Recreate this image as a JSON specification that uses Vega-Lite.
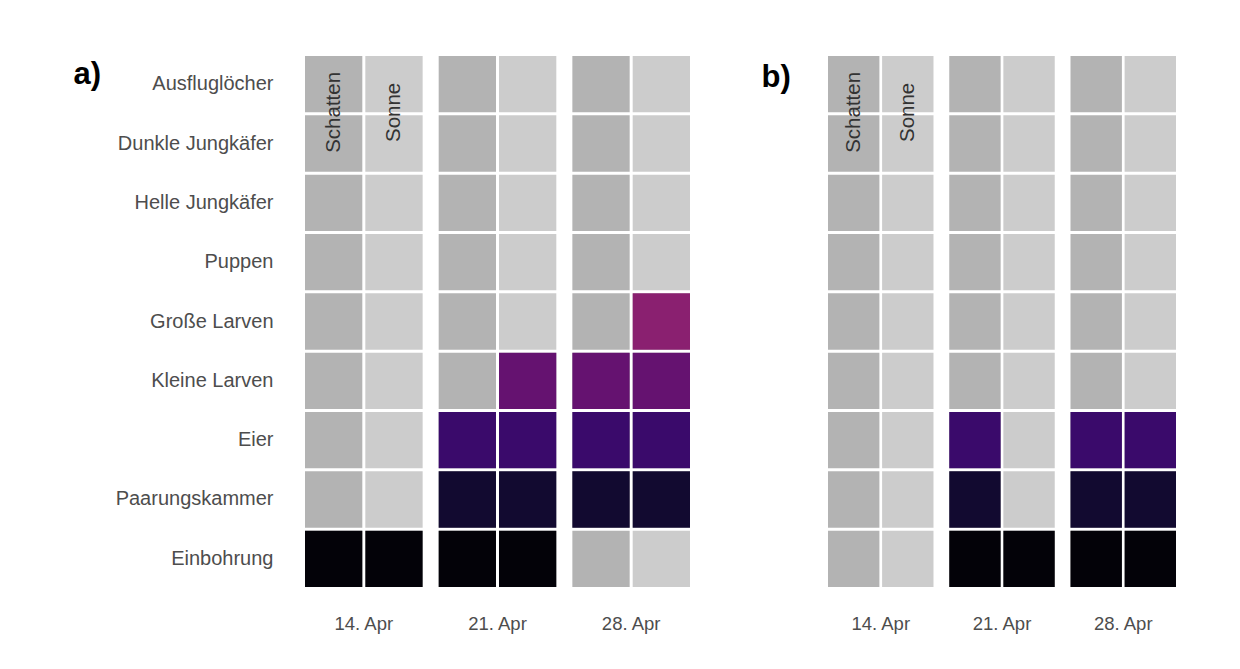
{
  "$schema": "https://vega.github.io/schema/vega-lite/v6.json",
  "background": "white",
  "padding": {"left": 73, "top": 56, "right": 10, "bottom": 10},
  "config": {"view": {"stroke": null}, "font": "Liberation Sans", "concat": {"spacing": 71}},
  "resolve": {"scale": {"xOffset": "independent", "x": "independent", "y": "independent"}},
  "datasets": {
    "cells": [
      {"panel":"a","date":"14. Apr","cond":"Schatten","stage":"Ausfluglöcher","present":0},
      {"panel":"a","date":"14. Apr","cond":"Sonne","stage":"Ausfluglöcher","present":0},
      {"panel":"a","date":"14. Apr","cond":"Schatten","stage":"Dunkle Jungkäfer","present":0},
      {"panel":"a","date":"14. Apr","cond":"Sonne","stage":"Dunkle Jungkäfer","present":0},
      {"panel":"a","date":"14. Apr","cond":"Schatten","stage":"Helle Jungkäfer","present":0},
      {"panel":"a","date":"14. Apr","cond":"Sonne","stage":"Helle Jungkäfer","present":0},
      {"panel":"a","date":"14. Apr","cond":"Schatten","stage":"Puppen","present":0},
      {"panel":"a","date":"14. Apr","cond":"Sonne","stage":"Puppen","present":0},
      {"panel":"a","date":"14. Apr","cond":"Schatten","stage":"Große Larven","present":0},
      {"panel":"a","date":"14. Apr","cond":"Sonne","stage":"Große Larven","present":0},
      {"panel":"a","date":"14. Apr","cond":"Schatten","stage":"Kleine Larven","present":0},
      {"panel":"a","date":"14. Apr","cond":"Sonne","stage":"Kleine Larven","present":0},
      {"panel":"a","date":"14. Apr","cond":"Schatten","stage":"Eier","present":0},
      {"panel":"a","date":"14. Apr","cond":"Sonne","stage":"Eier","present":0},
      {"panel":"a","date":"14. Apr","cond":"Schatten","stage":"Paarungskammer","present":0},
      {"panel":"a","date":"14. Apr","cond":"Sonne","stage":"Paarungskammer","present":0},
      {"panel":"a","date":"14. Apr","cond":"Schatten","stage":"Einbohrung","present":1},
      {"panel":"a","date":"14. Apr","cond":"Sonne","stage":"Einbohrung","present":1},
      {"panel":"a","date":"21. Apr","cond":"Schatten","stage":"Ausfluglöcher","present":0},
      {"panel":"a","date":"21. Apr","cond":"Sonne","stage":"Ausfluglöcher","present":0},
      {"panel":"a","date":"21. Apr","cond":"Schatten","stage":"Dunkle Jungkäfer","present":0},
      {"panel":"a","date":"21. Apr","cond":"Sonne","stage":"Dunkle Jungkäfer","present":0},
      {"panel":"a","date":"21. Apr","cond":"Schatten","stage":"Helle Jungkäfer","present":0},
      {"panel":"a","date":"21. Apr","cond":"Sonne","stage":"Helle Jungkäfer","present":0},
      {"panel":"a","date":"21. Apr","cond":"Schatten","stage":"Puppen","present":0},
      {"panel":"a","date":"21. Apr","cond":"Sonne","stage":"Puppen","present":0},
      {"panel":"a","date":"21. Apr","cond":"Schatten","stage":"Große Larven","present":0},
      {"panel":"a","date":"21. Apr","cond":"Sonne","stage":"Große Larven","present":0},
      {"panel":"a","date":"21. Apr","cond":"Schatten","stage":"Kleine Larven","present":0},
      {"panel":"a","date":"21. Apr","cond":"Sonne","stage":"Kleine Larven","present":1},
      {"panel":"a","date":"21. Apr","cond":"Schatten","stage":"Eier","present":1},
      {"panel":"a","date":"21. Apr","cond":"Sonne","stage":"Eier","present":1},
      {"panel":"a","date":"21. Apr","cond":"Schatten","stage":"Paarungskammer","present":1},
      {"panel":"a","date":"21. Apr","cond":"Sonne","stage":"Paarungskammer","present":1},
      {"panel":"a","date":"21. Apr","cond":"Schatten","stage":"Einbohrung","present":1},
      {"panel":"a","date":"21. Apr","cond":"Sonne","stage":"Einbohrung","present":1},
      {"panel":"a","date":"28. Apr","cond":"Schatten","stage":"Ausfluglöcher","present":0},
      {"panel":"a","date":"28. Apr","cond":"Sonne","stage":"Ausfluglöcher","present":0},
      {"panel":"a","date":"28. Apr","cond":"Schatten","stage":"Dunkle Jungkäfer","present":0},
      {"panel":"a","date":"28. Apr","cond":"Sonne","stage":"Dunkle Jungkäfer","present":0},
      {"panel":"a","date":"28. Apr","cond":"Schatten","stage":"Helle Jungkäfer","present":0},
      {"panel":"a","date":"28. Apr","cond":"Sonne","stage":"Helle Jungkäfer","present":0},
      {"panel":"a","date":"28. Apr","cond":"Schatten","stage":"Puppen","present":0},
      {"panel":"a","date":"28. Apr","cond":"Sonne","stage":"Puppen","present":0},
      {"panel":"a","date":"28. Apr","cond":"Schatten","stage":"Große Larven","present":0},
      {"panel":"a","date":"28. Apr","cond":"Sonne","stage":"Große Larven","present":1},
      {"panel":"a","date":"28. Apr","cond":"Schatten","stage":"Kleine Larven","present":1},
      {"panel":"a","date":"28. Apr","cond":"Sonne","stage":"Kleine Larven","present":1},
      {"panel":"a","date":"28. Apr","cond":"Schatten","stage":"Eier","present":1},
      {"panel":"a","date":"28. Apr","cond":"Sonne","stage":"Eier","present":1},
      {"panel":"a","date":"28. Apr","cond":"Schatten","stage":"Paarungskammer","present":1},
      {"panel":"a","date":"28. Apr","cond":"Sonne","stage":"Paarungskammer","present":1},
      {"panel":"a","date":"28. Apr","cond":"Schatten","stage":"Einbohrung","present":0},
      {"panel":"a","date":"28. Apr","cond":"Sonne","stage":"Einbohrung","present":0},
      {"panel":"b","date":"14. Apr","cond":"Schatten","stage":"Ausfluglöcher","present":0},
      {"panel":"b","date":"14. Apr","cond":"Sonne","stage":"Ausfluglöcher","present":0},
      {"panel":"b","date":"14. Apr","cond":"Schatten","stage":"Dunkle Jungkäfer","present":0},
      {"panel":"b","date":"14. Apr","cond":"Sonne","stage":"Dunkle Jungkäfer","present":0},
      {"panel":"b","date":"14. Apr","cond":"Schatten","stage":"Helle Jungkäfer","present":0},
      {"panel":"b","date":"14. Apr","cond":"Sonne","stage":"Helle Jungkäfer","present":0},
      {"panel":"b","date":"14. Apr","cond":"Schatten","stage":"Puppen","present":0},
      {"panel":"b","date":"14. Apr","cond":"Sonne","stage":"Puppen","present":0},
      {"panel":"b","date":"14. Apr","cond":"Schatten","stage":"Große Larven","present":0},
      {"panel":"b","date":"14. Apr","cond":"Sonne","stage":"Große Larven","present":0},
      {"panel":"b","date":"14. Apr","cond":"Schatten","stage":"Kleine Larven","present":0},
      {"panel":"b","date":"14. Apr","cond":"Sonne","stage":"Kleine Larven","present":0},
      {"panel":"b","date":"14. Apr","cond":"Schatten","stage":"Eier","present":0},
      {"panel":"b","date":"14. Apr","cond":"Sonne","stage":"Eier","present":0},
      {"panel":"b","date":"14. Apr","cond":"Schatten","stage":"Paarungskammer","present":0},
      {"panel":"b","date":"14. Apr","cond":"Sonne","stage":"Paarungskammer","present":0},
      {"panel":"b","date":"14. Apr","cond":"Schatten","stage":"Einbohrung","present":0},
      {"panel":"b","date":"14. Apr","cond":"Sonne","stage":"Einbohrung","present":0},
      {"panel":"b","date":"21. Apr","cond":"Schatten","stage":"Ausfluglöcher","present":0},
      {"panel":"b","date":"21. Apr","cond":"Sonne","stage":"Ausfluglöcher","present":0},
      {"panel":"b","date":"21. Apr","cond":"Schatten","stage":"Dunkle Jungkäfer","present":0},
      {"panel":"b","date":"21. Apr","cond":"Sonne","stage":"Dunkle Jungkäfer","present":0},
      {"panel":"b","date":"21. Apr","cond":"Schatten","stage":"Helle Jungkäfer","present":0},
      {"panel":"b","date":"21. Apr","cond":"Sonne","stage":"Helle Jungkäfer","present":0},
      {"panel":"b","date":"21. Apr","cond":"Schatten","stage":"Puppen","present":0},
      {"panel":"b","date":"21. Apr","cond":"Sonne","stage":"Puppen","present":0},
      {"panel":"b","date":"21. Apr","cond":"Schatten","stage":"Große Larven","present":0},
      {"panel":"b","date":"21. Apr","cond":"Sonne","stage":"Große Larven","present":0},
      {"panel":"b","date":"21. Apr","cond":"Schatten","stage":"Kleine Larven","present":0},
      {"panel":"b","date":"21. Apr","cond":"Sonne","stage":"Kleine Larven","present":0},
      {"panel":"b","date":"21. Apr","cond":"Schatten","stage":"Eier","present":1},
      {"panel":"b","date":"21. Apr","cond":"Sonne","stage":"Eier","present":0},
      {"panel":"b","date":"21. Apr","cond":"Schatten","stage":"Paarungskammer","present":1},
      {"panel":"b","date":"21. Apr","cond":"Sonne","stage":"Paarungskammer","present":0},
      {"panel":"b","date":"21. Apr","cond":"Schatten","stage":"Einbohrung","present":1},
      {"panel":"b","date":"21. Apr","cond":"Sonne","stage":"Einbohrung","present":1},
      {"panel":"b","date":"28. Apr","cond":"Schatten","stage":"Ausfluglöcher","present":0},
      {"panel":"b","date":"28. Apr","cond":"Sonne","stage":"Ausfluglöcher","present":0},
      {"panel":"b","date":"28. Apr","cond":"Schatten","stage":"Dunkle Jungkäfer","present":0},
      {"panel":"b","date":"28. Apr","cond":"Sonne","stage":"Dunkle Jungkäfer","present":0},
      {"panel":"b","date":"28. Apr","cond":"Schatten","stage":"Helle Jungkäfer","present":0},
      {"panel":"b","date":"28. Apr","cond":"Sonne","stage":"Helle Jungkäfer","present":0},
      {"panel":"b","date":"28. Apr","cond":"Schatten","stage":"Puppen","present":0},
      {"panel":"b","date":"28. Apr","cond":"Sonne","stage":"Puppen","present":0},
      {"panel":"b","date":"28. Apr","cond":"Schatten","stage":"Große Larven","present":0},
      {"panel":"b","date":"28. Apr","cond":"Sonne","stage":"Große Larven","present":0},
      {"panel":"b","date":"28. Apr","cond":"Schatten","stage":"Kleine Larven","present":0},
      {"panel":"b","date":"28. Apr","cond":"Sonne","stage":"Kleine Larven","present":0},
      {"panel":"b","date":"28. Apr","cond":"Schatten","stage":"Eier","present":1},
      {"panel":"b","date":"28. Apr","cond":"Sonne","stage":"Eier","present":1},
      {"panel":"b","date":"28. Apr","cond":"Schatten","stage":"Paarungskammer","present":1},
      {"panel":"b","date":"28. Apr","cond":"Sonne","stage":"Paarungskammer","present":1},
      {"panel":"b","date":"28. Apr","cond":"Schatten","stage":"Einbohrung","present":1},
      {"panel":"b","date":"28. Apr","cond":"Sonne","stage":"Einbohrung","present":1}
    ],
    "labels": [
      {"date":"14. Apr","cond":"Schatten","stage":"Ausfluglöcher","label":"Schatten"},
      {"date":"14. Apr","cond":"Sonne","stage":"Ausfluglöcher","label":"Sonne"}
    ]
  },
  "hconcat": [
    {
      "width": 385,
      "height": 531,
      "resolve": {"scale": {"color": "independent"}},
      "layer": [
        {
          "data": {"name": "cells"},
          "transform": [{"filter": "datum.panel == 'a'"}],
          "mark": {"type": "rect"},
          "encoding": {
            "x": {"field": "date", "type": "ordinal", "sort": ["14. Apr","21. Apr","28. Apr"],
                  "scale": {"paddingInner": 0.12, "paddingOuter": 0},
                  "axis": {"title": null, "labelAngle": 0, "ticks": false, "domain": false, "labelFontSize": 18.5, "labelColor": "#4d4d4d", "labelPadding": 27}},
            "xOffset": {"field": "cond", "type": "nominal", "sort": ["Schatten","Sonne"], "scale": {"paddingInner": 0.05, "paddingOuter": 0}},
            "y": {"field": "stage", "type": "ordinal",
                  "sort": ["Ausfluglöcher","Dunkle Jungkäfer","Helle Jungkäfer","Puppen","Große Larven","Kleine Larven","Eier","Paarungskammer","Einbohrung"],
                  "scale": {"paddingInner": 0.05, "paddingOuter": 0},
                  "axis": {"title": "a)", "titleAngle": 0, "titleAlign": "left", "titleBaseline": "alphabetic", "titleX": -232, "titleY": 27, "titleFontSize": 31, "titleFontWeight": "bold", "titleColor": "#000000",
                           "ticks": false, "domain": false, "labelFontSize": 20, "labelColor": "#4d4d4d", "labelPadding": 32}},
            "color": {"field": "cond", "type": "nominal", "scale": {"domain": ["Schatten","Sonne"], "range": ["#b3b3b3","#cccccc"]}, "legend": null}
          }
        },
        {
          "data": {"name": "cells"},
          "transform": [{"filter": "datum.panel == 'a' && datum.present == 1"}],
          "mark": {"type": "rect"},
          "encoding": {
            "x": {"field": "date", "type": "ordinal", "sort": ["14. Apr","21. Apr","28. Apr"]},
            "xOffset": {"field": "cond", "type": "nominal", "sort": ["Schatten","Sonne"]},
            "y": {"field": "stage", "type": "ordinal", "sort": ["Ausfluglöcher","Dunkle Jungkäfer","Helle Jungkäfer","Puppen","Große Larven","Kleine Larven","Eier","Paarungskammer","Einbohrung"]},
            "color": {"field": "stage", "type": "nominal",
                      "scale": {"domain": ["Einbohrung","Paarungskammer","Eier","Kleine Larven","Große Larven","Puppen","Helle Jungkäfer","Dunkle Jungkäfer","Ausfluglöcher"],
                                "range": ["#030208","#120a30","#3a0a6b","#651270","#8a2070","#b73779","#de4968","#f7705c","#fe9f6d"]},
                      "legend": null}
          }
        },
        {
          "data": {"name": "labels"},
          "mark": {"type": "text", "angle": 270, "align": "center", "baseline": "middle", "fontSize": 20.5, "color": "#333333"},
          "encoding": {
            "x": {"field": "date", "type": "ordinal", "sort": ["14. Apr","21. Apr","28. Apr"]},
            "xOffset": {"field": "cond", "type": "nominal", "sort": ["Schatten","Sonne"]},
            "y": {"field": "stage", "type": "ordinal", "bandPosition": 1, "sort": ["Ausfluglöcher","Dunkle Jungkäfer","Helle Jungkäfer","Puppen","Große Larven","Kleine Larven","Eier","Paarungskammer","Einbohrung"]},
            "text": {"field": "label"}
          }
        }
      ]
    },
    {
      "width": 348,
      "height": 531,
      "resolve": {"scale": {"color": "independent"}},
      "layer": [
        {
          "data": {"name": "cells"},
          "transform": [{"filter": "datum.panel == 'b'"}],
          "mark": {"type": "rect"},
          "encoding": {
            "x": {"field": "date", "type": "ordinal", "sort": ["14. Apr","21. Apr","28. Apr"],
                  "scale": {"paddingInner": 0.13, "paddingOuter": 0},
                  "axis": {"title": null, "labelAngle": 0, "ticks": false, "domain": false, "labelFontSize": 18.5, "labelColor": "#4d4d4d", "labelPadding": 27}},
            "xOffset": {"field": "cond", "type": "nominal", "sort": ["Schatten","Sonne"], "scale": {"paddingInner": 0.05, "paddingOuter": 0}},
            "y": {"field": "stage", "type": "ordinal",
                  "sort": ["Ausfluglöcher","Dunkle Jungkäfer","Helle Jungkäfer","Puppen","Große Larven","Kleine Larven","Eier","Paarungskammer","Einbohrung"],
                  "scale": {"paddingInner": 0.05, "paddingOuter": 0},
                  "axis": {"title": "b)", "titleAngle": 0, "titleAlign": "left", "titleBaseline": "alphabetic", "titleX": -67, "titleY": 30, "titleFontSize": 31, "titleFontWeight": "bold", "titleColor": "#000000",
                           "labels": false, "ticks": false, "domain": false}},
            "color": {"field": "cond", "type": "nominal", "scale": {"domain": ["Schatten","Sonne"], "range": ["#b3b3b3","#cccccc"]}, "legend": null}
          }
        },
        {
          "data": {"name": "cells"},
          "transform": [{"filter": "datum.panel == 'b' && datum.present == 1"}],
          "mark": {"type": "rect"},
          "encoding": {
            "x": {"field": "date", "type": "ordinal", "sort": ["14. Apr","21. Apr","28. Apr"]},
            "xOffset": {"field": "cond", "type": "nominal", "sort": ["Schatten","Sonne"]},
            "y": {"field": "stage", "type": "ordinal", "sort": ["Ausfluglöcher","Dunkle Jungkäfer","Helle Jungkäfer","Puppen","Große Larven","Kleine Larven","Eier","Paarungskammer","Einbohrung"]},
            "color": {"field": "stage", "type": "nominal",
                      "scale": {"domain": ["Einbohrung","Paarungskammer","Eier","Kleine Larven","Große Larven","Puppen","Helle Jungkäfer","Dunkle Jungkäfer","Ausfluglöcher"],
                                "range": ["#030208","#120a30","#3a0a6b","#651270","#8a2070","#b73779","#de4968","#f7705c","#fe9f6d"]},
                      "legend": null}
          }
        },
        {
          "data": {"name": "labels"},
          "mark": {"type": "text", "angle": 270, "align": "center", "baseline": "middle", "fontSize": 20.5, "color": "#333333"},
          "encoding": {
            "x": {"field": "date", "type": "ordinal", "sort": ["14. Apr","21. Apr","28. Apr"]},
            "xOffset": {"field": "cond", "type": "nominal", "sort": ["Schatten","Sonne"]},
            "y": {"field": "stage", "type": "ordinal", "bandPosition": 1, "sort": ["Ausfluglöcher","Dunkle Jungkäfer","Helle Jungkäfer","Puppen","Große Larven","Kleine Larven","Eier","Paarungskammer","Einbohrung"]},
            "text": {"field": "label"}
          }
        }
      ]
    }
  ]
}
